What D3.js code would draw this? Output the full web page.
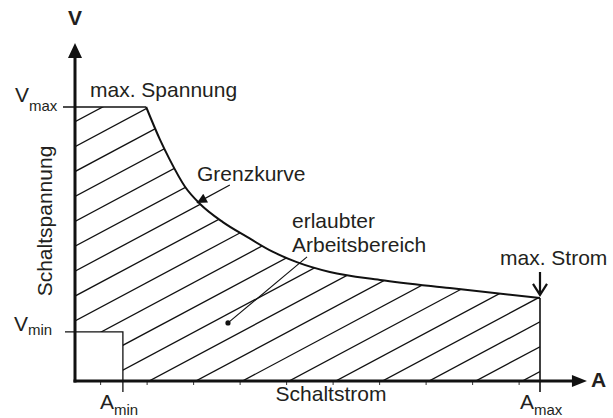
<!DOCTYPE html>
<html>
<head>
<meta charset="utf-8">
<script src="https://cdn.jsdelivr.net/npm/d3@7"></script>
<style>
  body { margin: 0; background: #fff; }
  text { font-family: "Liberation Sans", Arial, sans-serif; fill: #231f20; }
</style>
</head>
<body>
<svg id="chart" width="613" height="418"></svg>
<script>
// Grenzkurve: Schaltstrom (% von Amax) gegen Schaltspannung (% von Vmax)
const curveCurrent = [15.3, 18.3, 20.4, 23.7, 26.9, 31.8, 37, 42.6, 47.7, 54.8, 65.6, 80.6, 100];
const curveVoltage = [100, 88, 80.7, 70.8, 64.6, 58, 52.6, 47.1, 43.4, 39.8, 36.9, 33.9, 30.3];

// Grenzwerte
const voltageLimits = [17.9, 100];   // Vmin, Vmax
const currentLimits = [10.3, 100];   // Amin, Amax
const axisEnds = [110.1, 123.4];     // arrow tips (x, y)

// small marks under the current axis
const minorTicks = [5.4, 15.4, 25.4, 35.4, 45.4, 55.4, 65.4, 75.4, 85.4, 95.4];

const [vMin, vMax] = voltageLimits;
const [aMin, aMax] = currentLimits;

const svg = d3.select("#chart");

const x = d3.scaleLinear().domain([0, 100]).range([75, 540]);
const y = d3.scaleLinear().domain([0, 100]).range([381, 107]);

const pts = curveCurrent.map((c, i) => [c, curveVoltage[i]]);
const line = d3.line().x(d => x(d[0])).y(d => y(d[1])).curve(d3.curveMonotoneX);

// allowed working area (used as clip for the hatching)
const areaPath = line(pts) +
  `L${x(aMax)},${y(0)}L${x(aMin)},${y(0)}L${x(aMin)},${y(vMin)}` +
  `L${x(0)},${y(vMin)}L${x(0)},${y(vMax)}Z`;

svg.append("clipPath").attr("id", "area")
  .append("path").attr("d", areaPath);

// hatching
const slope = 0.906, gap = 9.09;
const hatch = svg.append("g").attr("clip-path", "url(#area)");
hatch.selectAll("line")
  .data(d3.range(21.9 - gap * 14, 100, gap))
  .enter().append("line")
  .attr("x1", x(0)).attr("y1", c => y(c))
  .attr("x2", x(100)).attr("y2", c => y(c + slope * 100))
  .attr("stroke", "#111").attr("stroke-width", 1.3);

// Grenzkurve
svg.append("path")
  .attr("d", line(pts))
  .attr("fill", "none").attr("stroke", "#111").attr("stroke-width", 2);

// Vmax line with tick
svg.append("line")
  .attr("x1", x(0) - 12).attr("x2", x(curveCurrent[0]))
  .attr("y1", y(vMax)).attr("y2", y(vMax))
  .attr("stroke", "#111").attr("stroke-width", 1.3);

// Vmin / Amin box
svg.append("path")
  .attr("d", `M${x(0) - 10},${y(vMin)}H${x(aMin)}V${y(0) + 11}`)
  .attr("fill", "none").attr("stroke", "#111").attr("stroke-width", 1.3);

// Amax line
svg.append("line")
  .attr("x1", x(aMax)).attr("x2", x(aMax))
  .attr("y1", y(curveVoltage[curveVoltage.length - 1])).attr("y2", y(0) + 11)
  .attr("stroke", "#111").attr("stroke-width", 1.6);

// minor ticks
const tickG = svg.append("g")
  .attr("transform", `translate(0,${y(0) + 1})`)
  .call(d3.axisBottom(x).tickValues(minorTicks).tickSize(3).tickFormat(""));
tickG.select(".domain").remove();
tickG.selectAll("line").attr("stroke", "#333").attr("stroke-width", 1);

// axes with arrows
const xTip = x(axisEnds[0]), yTip = y(axisEnds[1]);
svg.append("line")
  .attr("x1", x(0) - 1.5).attr("x2", xTip - 12)
  .attr("y1", y(0)).attr("y2", y(0))
  .attr("stroke", "#111").attr("stroke-width", 3);
svg.append("line")
  .attr("x1", x(0)).attr("x2", x(0))
  .attr("y1", y(0) + 1.5).attr("y2", yTip + 12)
  .attr("stroke", "#111").attr("stroke-width", 3);
svg.append("path")
  .attr("d", `M${xTip},${y(0)}L${xTip - 15},${y(0) - 6}L${xTip - 15},${y(0) + 6}Z`)
  .attr("fill", "#111");
svg.append("path")
  .attr("d", `M${x(0)},${yTip}L${x(0) - 7},${yTip + 15}L${x(0) + 7},${yTip + 15}Z`)
  .attr("fill", "#111");

// annotation arrows
const defs = svg.append("defs");
defs.append("marker").attr("id", "tri")
  .attr("viewBox", "0 0 10 10").attr("refX", 10).attr("refY", 5)
  .attr("markerWidth", 14).attr("markerHeight", 10).attr("markerUnits", "userSpaceOnUse")
  .attr("orient", "auto")
  .append("path").attr("d", "M0,0L10,5L0,10Z").attr("fill", "#111");

svg.append("line")
  .attr("x1", x(33.3)).attr("y1", y(71.5))
  .attr("x2", x(26.2)).attr("y2", y(65))
  .attr("stroke", "#111").attr("stroke-width", 1.2)
  .attr("marker-end", "url(#tri)");

svg.append("line")
  .attr("x1", x(49.9)).attr("y1", y(45.3))
  .attr("x2", x(32.9)).attr("y2", y(21.2))
  .attr("stroke", "#111").attr("stroke-width", 1.1);
svg.append("circle")
  .attr("cx", x(32.9)).attr("cy", y(21.2)).attr("r", 2.6).attr("fill", "#111");

// max. Strom arrow
const sTop = y(39.8), sTip = y(31.4);
svg.append("path")
  .attr("d", `M${x(aMax)},${sTop}V${sTip}M${x(aMax) - 7},${sTip - 11}L${x(aMax)},${sTip}L${x(aMax) + 7},${sTip - 11}`)
  .attr("fill", "none").attr("stroke", "#111").attr("stroke-width", 2.2);

// texts
const fs = 21, sub = 15;
function label(tx, ty, main, subText, dy, anchor) {
  const t = svg.append("text").attr("x", tx).attr("y", ty)
    .attr("font-size", fs).attr("text-anchor", anchor || "start");
  t.append("tspan").text(main);
  if (subText) t.append("tspan").attr("font-size", sub).attr("dy", dy).text(subText);
  return t;
}

svg.append("text").attr("x", x(0)).attr("y", 25)
  .attr("text-anchor", "middle").attr("font-size", fs).attr("font-weight", "bold").text("V");
svg.append("text").attr("x", 591).attr("y", 387)
  .attr("font-size", fs).attr("font-weight", "bold").text("A");

label(15, y(vMax) - 5, "V", "max", 9);
label(14, y(vMin) - 1, "V", "min", 4);
label(100, 409, "A", "min", 6);
label(520, 409, "A", "max", 6);

label(90, 97, "max. Spannung");
label(197, 181, "Grenzkurve");
label(292, 228, "erlaubter");
label(292, 252, "Arbeitsbereich");
label(500, 265, "max. Strom");
label(331, 401, "Schaltstrom", null, 0, "middle");

svg.append("text")
  .attr("transform", "translate(52,221) rotate(-90)")
  .attr("text-anchor", "middle").attr("font-size", fs)
  .text("Schaltspannung");
</script>
</body>
</html>
